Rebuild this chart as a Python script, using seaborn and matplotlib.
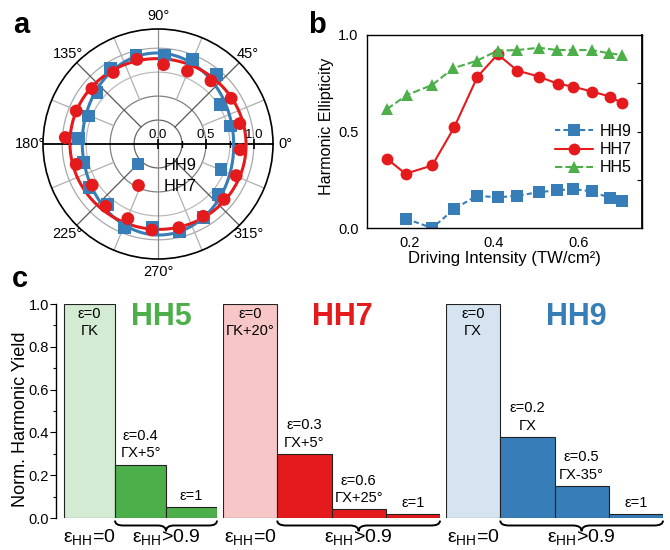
import numpy as np
import pandas as pd
import matplotlib
matplotlib.use("Agg")
import matplotlib.pyplot as plt
import seaborn as sns
from matplotlib.path import Path
from matplotlib.patches import PathPatch
import matplotlib.transforms as mtransforms

sns.set_theme(style="white")
plt.rcParams['font.family'] = ['Liberation Sans', 'DejaVu Sans']
plt.rcParams['mathtext.fontset'] = 'custom'
plt.rcParams['mathtext.rm'] = 'Liberation Sans'
plt.rcParams['mathtext.it'] = 'Liberation Sans:italic'
plt.rcParams['mathtext.bf'] = 'Liberation Sans:bold'
plt.rcParams['axes.edgecolor'] = 'black'
plt.rcParams['xtick.color'] = 'black'
plt.rcParams['ytick.color'] = 'black'
plt.rcParams['text.color'] = 'black'
plt.rcParams['axes.labelcolor'] = 'black'

BLUE = '#377eb8'
RED = '#e41a1c'
GREEN = '#4daf4a'

# ---------------- Panel a: polar data ----------------
hh9_angle_deg = [14, 32, 50, 68, 86, 104, 122, 140, 158, 176, 194, 212, 230, 248, 266, 284, 302, 320, 338]
hh9_polar_r = [0.78, 0.77, 0.95, 0.95, 0.93, 0.95, 0.93, 0.83, 0.78, 0.83, 0.80, 0.85, 0.82, 0.94, 0.87, 0.94, 0.90, 0.82, 0.71]
hh7_angle_deg = [356, 14, 32, 50, 68, 86, 104, 122, 140, 158, 176, 194, 212, 230, 248, 266, 284, 302, 320, 338]
hh7_polar_r = [0.86, 0.88, 0.90, 0.86, 0.82, 0.83, 0.91, 0.88, 0.90, 0.92, 0.97, 0.88, 0.81, 0.85, 0.84, 0.90, 0.90, 0.89, 0.90, 0.88]
# fitted polarization ellipses: (semi-major, semi-minor, orientation deg)
hh9_fit = (0.95, 0.79, 92)
hh7_fit = (0.92, 0.89, 170)

# ---------------- Panel b: ellipticity vs intensity ----------------
hh5_intensity = [0.147, 0.195, 0.254, 0.304, 0.359, 0.409, 0.455, 0.507, 0.549, 0.587, 0.631, 0.673, 0.702]
hh5_ellip = [0.616, 0.690, 0.741, 0.828, 0.866, 0.919, 0.922, 0.934, 0.922, 0.922, 0.922, 0.905, 0.897]
hh7_intensity = [0.147, 0.191, 0.254, 0.306, 0.361, 0.409, 0.455, 0.507, 0.551, 0.587, 0.631, 0.675, 0.702]
hh7_ellip = [0.359, 0.281, 0.324, 0.521, 0.784, 0.900, 0.816, 0.784, 0.747, 0.733, 0.707, 0.681, 0.647]
hh9_intensity = [0.192, 0.254, 0.306, 0.359, 0.409, 0.455, 0.507, 0.549, 0.587, 0.631, 0.675, 0.702]
hh9_ellip = [0.048, 0.000, 0.098, 0.167, 0.159, 0.167, 0.186, 0.195, 0.202, 0.190, 0.155, 0.138]

# ---------------- Panel c: normalized yields ----------------
hh5_yield = [1.0, 0.25, 0.05]
hh5_labels = ['ε=0\nΓK', 'ε=0.4\nΓX+5°', 'ε=1']
hh7_yield = [1.0, 0.30, 0.04, 0.02]
hh7_labels = ['ε=0\nΓK+20°', 'ε=0.3\nΓX+5°', 'ε=0.6\nΓX+25°', 'ε=1']
hh9_yield = [1.0, 0.38, 0.15, 0.02]
hh9_labels = ['ε=0\nΓX', 'ε=0.2\nΓX', 'ε=0.5\nΓX-35°', 'ε=1']

W, H = 670, 550
fig = plt.figure(figsize=(W / 100, H / 100), dpi=100)


def rect(l, t, r, b):
    return [l / W, 1 - b / H, (r - l) / W, (b - t) / H]


# ======================= Panel a =======================
axa = fig.add_axes(rect(43, 29, 273, 259), projection='polar')
RMAX = 1.2
axa.set_rlim(0, RMAX)
axa.set_yticks([])
axa.set_thetagrids(range(0, 360, 45), labels=[f'{a}°' for a in range(0, 360, 45)])
axa.xaxis.grid(False)
axa.tick_params(axis='x', pad=-4, labelsize=10.5)
axa.spines['polar'].set_color('black')
axa.spines['polar'].set_linewidth(1.2)

th = np.linspace(0, 2 * np.pi, 361)
for rr, cc in [(0.25, '#666666'), (0.5, '#808080'), (0.75, '#bbbbbb'), (1.0, '#a8a8a8')]:
    axa.plot(th, np.full_like(th, rr), color=cc, lw=0.9, zorder=1)
for ang in [45, 135, 225, 315]:
    a = np.deg2rad(ang)
    axa.plot([a, a], [0.25, RMAX], color='#555555', lw=0.9, zorder=1)
for ang in np.arange(22.5, 360, 45):
    a = np.deg2rad(ang)
    axa.plot([a, a], [0.5, RMAX], color='#b0b0b0', lw=0.9, zorder=1)
for ang in [90, 270]:
    a = np.deg2rad(ang)
    axa.plot([a, a], [0, RMAX], color='#8c8c8c', lw=0.9, zorder=1)
for ang in [0, 180]:
    a = np.deg2rad(ang)
    axa.plot([a, a], [0, RMAX], color='black', lw=1.3, zorder=2)
axa.plot([0, 0, 0], [0, 0.5, 1.0], ls='', marker='|', ms=7, mew=1.2, color='black', zorder=2)
axa.plot([0, 0], [0.25, 0.75], ls='', marker='|', ms=4, mew=1.0, color='black', zorder=2)
for rv in [0.0, 0.5, 1.0]:
    axa.annotate(f'{rv:.1f}', xy=(0, rv), xytext=(0, 2), textcoords='offset points',
                 ha='center', va='bottom', fontsize=9.5, zorder=5)


def ellipse_r(theta, fit):
    a, b, phi = fit
    t = theta - np.deg2rad(phi)
    return a * b / np.sqrt((b * np.cos(t)) ** 2 + (a * np.sin(t)) ** 2)


axa.plot(th, ellipse_r(th, hh9_fit), color=BLUE, lw=2.2, zorder=3)
axa.plot(th, ellipse_r(th, hh7_fit), color=RED, lw=2.2, zorder=3)

dfa = pd.DataFrame({
    'theta': np.deg2rad(hh9_angle_deg + hh7_angle_deg),
    'r': hh9_polar_r + hh7_polar_r,
    'H': ['HH9'] * len(hh9_angle_deg) + ['HH7'] * len(hh7_angle_deg),
})
sns.scatterplot(data=dfa, x='theta', y='r', hue='H', style='H', hue_order=['HH9', 'HH7'],
                markers={'HH9': 's', 'HH7': 'o'}, palette={'HH9': BLUE, 'HH7': RED},
                s=85, linewidth=0, ax=axa, zorder=4)
axa.set_xlabel('')
axa.set_ylabel('')
axa.set_rlim(0, RMAX)
leg = axa.legend(loc='upper left', bbox_to_anchor=(0.305, 0.475), frameon=False, fontsize=11.8,
                 handletextpad=0.6, labelspacing=0.38, borderpad=0, markerscale=1.0)

# ======================= Panel b =======================
axb = fig.add_axes(rect(367, 35, 642, 228))
dfb = pd.DataFrame({
    'I': hh9_intensity + hh7_intensity + hh5_intensity,
    'e': hh9_ellip + hh7_ellip + hh5_ellip,
    'H': ['HH9'] * len(hh9_intensity) + ['HH7'] * len(hh7_intensity) + ['HH5'] * len(hh5_intensity),
})
sns.lineplot(data=dfb, x='I', y='e', hue='H', style='H', hue_order=['HH9', 'HH7', 'HH5'],
             style_order=['HH9', 'HH7', 'HH5'],
             palette={'HH9': BLUE, 'HH7': RED, 'HH5': GREEN},
             markers={'HH9': 's', 'HH7': 'o', 'HH5': '^'},
             dashes={'HH9': (2.5, 1.5), 'HH7': '', 'HH5': (3.5, 1.5)},
             markersize=8.5, markeredgewidth=0, lw=1.5, ax=axb)
axb.set_xlim(0.1, 0.75)
axb.set_ylim(0, 1.0)
axb.set_xticks([0.2, 0.4, 0.6])
axb.set_xticklabels(['0.2', '0.4', '0.6'])
axb.set_xticks([0.1, 0.3, 0.5, 0.7], minor=True)
axb.set_yticks([0.0, 0.5, 1.0])
axb.set_yticklabels(['0.0', '0.5', '1.0'])
axb.set_yticks([0.25, 0.75], minor=True)
axb.tick_params(axis='both', which='major', direction='out', length=4, width=0.8, labelsize=10.5, pad=2)
axb.tick_params(axis='x', which='minor', direction='out', length=4, width=0.8)
axb.tick_params(axis='y', which='minor', direction='in', length=3, width=0.8)
sec = axb.secondary_yaxis('right')
sec.set_yticks([0.25, 0.5, 0.75])
sec.tick_params(axis='y', direction='in', length=3.5, width=0.8, labelright=False)
sec.spines['right'].set_color('black')
for sp in axb.spines.values():
    sp.set_color('black')
    sp.set_linewidth(1.0)
axb.set_xlabel('Driving Intensity (TW/cm²)', fontsize=12)
axb.set_ylabel('Harmonic Ellipticity', fontsize=11.6)
axb.xaxis.set_label_coords(0.5, -0.118)
axb.yaxis.set_label_coords(-0.12, 0.525)
axb.legend(loc='upper left', bbox_to_anchor=(0.655, 0.58), frameon=False, fontsize=11.5,
           handlelength=2.4, handletextpad=0.4, labelspacing=0.2, borderpad=0)

# ======================= Panel c =======================
groups = [
    ('HH5', GREEN, '#d3ebd2', hh5_yield, hh5_labels, rect(56, 304, 217, 518), 0.652),
    ('HH7', RED, '#f7c6c6', hh7_yield, hh7_labels, rect(223, 304, 440, 518), 0.548),
    ('HH9', BLUE, '#d6e4f1', hh9_yield, hh9_labels, rect(446, 304, 663, 518), 0.60),
]


def draw_brace(ax, x0, x1, y_top=-0.012, y_mid=-0.035, y_tip=-0.062, dx=0.16):
    xm = 0.5 * (x0 + x1)
    verts = [(x0, y_top), (x0, y_mid), (x0 + dx, y_mid), (xm - dx, y_mid),
             (xm, y_mid), (xm, y_tip), (xm, y_mid), (xm + dx, y_mid),
             (x1 - dx, y_mid), (x1, y_mid), (x1, y_top)]
    codes = [Path.MOVETO, Path.CURVE3, Path.CURVE3, Path.LINETO,
             Path.CURVE3, Path.CURVE3, Path.CURVE3, Path.CURVE3,
             Path.LINETO, Path.CURVE3, Path.CURVE3]
    tr = mtransforms.blended_transform_factory(ax.transData, ax.transAxes)
    patch = PathPatch(Path(verts, codes), facecolor='none', edgecolor='black', lw=1.4,
                      transform=tr, clip_on=False)
    ax.add_patch(patch)


for gi, (name, col, light, vals, labs, rc, title_x) in enumerate(groups):
    ax = fig.add_axes(rc)
    colors = [light] + [col] * (len(vals) - 1)
    sns.barplot(x=labs, y=vals, hue=labs, palette=colors, width=1.0, saturation=1,
                edgecolor='#222222', linewidth=0.8, legend=False, ax=ax)
    n = len(vals)
    if gi == 0:
        ax.set_xlim(-0.657, n - 0.5)
    else:
        ax.set_xlim(-0.5, n - 0.5)
    ax.set_ylim(0, 1.0)
    ax.set_xticks([])
    ax.set_xlabel('')
    for sname, sp in ax.spines.items():
        sp.set_visible(False)
    if gi == 0:
        ax.spines['left'].set_visible(True)
        ax.spines['left'].set_color('black')
        ax.spines['left'].set_linewidth(1.0)
        ax.set_yticks(np.arange(0, 1.01, 0.2))
        ax.set_yticklabels([f'{v:.1f}' for v in np.arange(0, 1.01, 0.2)])
        ax.set_yticks(np.arange(0.1, 1.0, 0.2), minor=True)
        ax.tick_params(axis='y', which='major', direction='out', length=4, width=0.8,
                       labelsize=10.5, pad=1, left=True)
        ax.tick_params(axis='y', which='minor', direction='out', length=2.5, width=0.8, left=True)
        ax.set_ylabel('Norm. Harmonic Yield', fontsize=13)
        ax.yaxis.set_label_coords(-0.165, 0.46)
    else:
        ax.set_yticks([])
        ax.set_ylabel('')
    for i, (lab, v) in enumerate(zip(labs, vals)):
        if i == 0:
            ax.annotate(lab, xy=(i, v), xytext=(0, -2), textcoords='offset points',
                        ha='center', va='top', fontsize=10.5, linespacing=1.3)
        else:
            ax.annotate(lab, xy=(i, v), xytext=(0, 3), textcoords='offset points',
                        ha='center', va='bottom', fontsize=10.5, linespacing=1.3)
    ax.text(title_x, 0.94, name, transform=ax.transAxes, ha='center', va='center',
            fontsize=22, fontweight='bold', color=col)
    tr = mtransforms.blended_transform_factory(ax.transData, ax.transAxes)
    ax.text(0, -0.09, 'ε$_{\\mathregular{HH}}$=0', transform=tr, ha='center', va='center',
            fontsize=14, clip_on=False)
    ax.text((1 + n - 1) / 2, -0.09, 'ε$_{\\mathregular{HH}}$>0.9', transform=tr, ha='center',
            va='center', fontsize=14, clip_on=False)
    draw_brace(ax, 0.5, n - 0.5)

# panel letters
fig.text(13 / W, 1 - 33 / H, 'a', fontsize=21, fontweight='bold', va='baseline')
fig.text(308 / W, 1 - 33 / H, 'b', fontsize=21, fontweight='bold', va='baseline')
fig.text(12 / W, 1 - 287 / H, 'c', fontsize=21, fontweight='bold', va='baseline')

fig.savefig('out.png', dpi=100)
